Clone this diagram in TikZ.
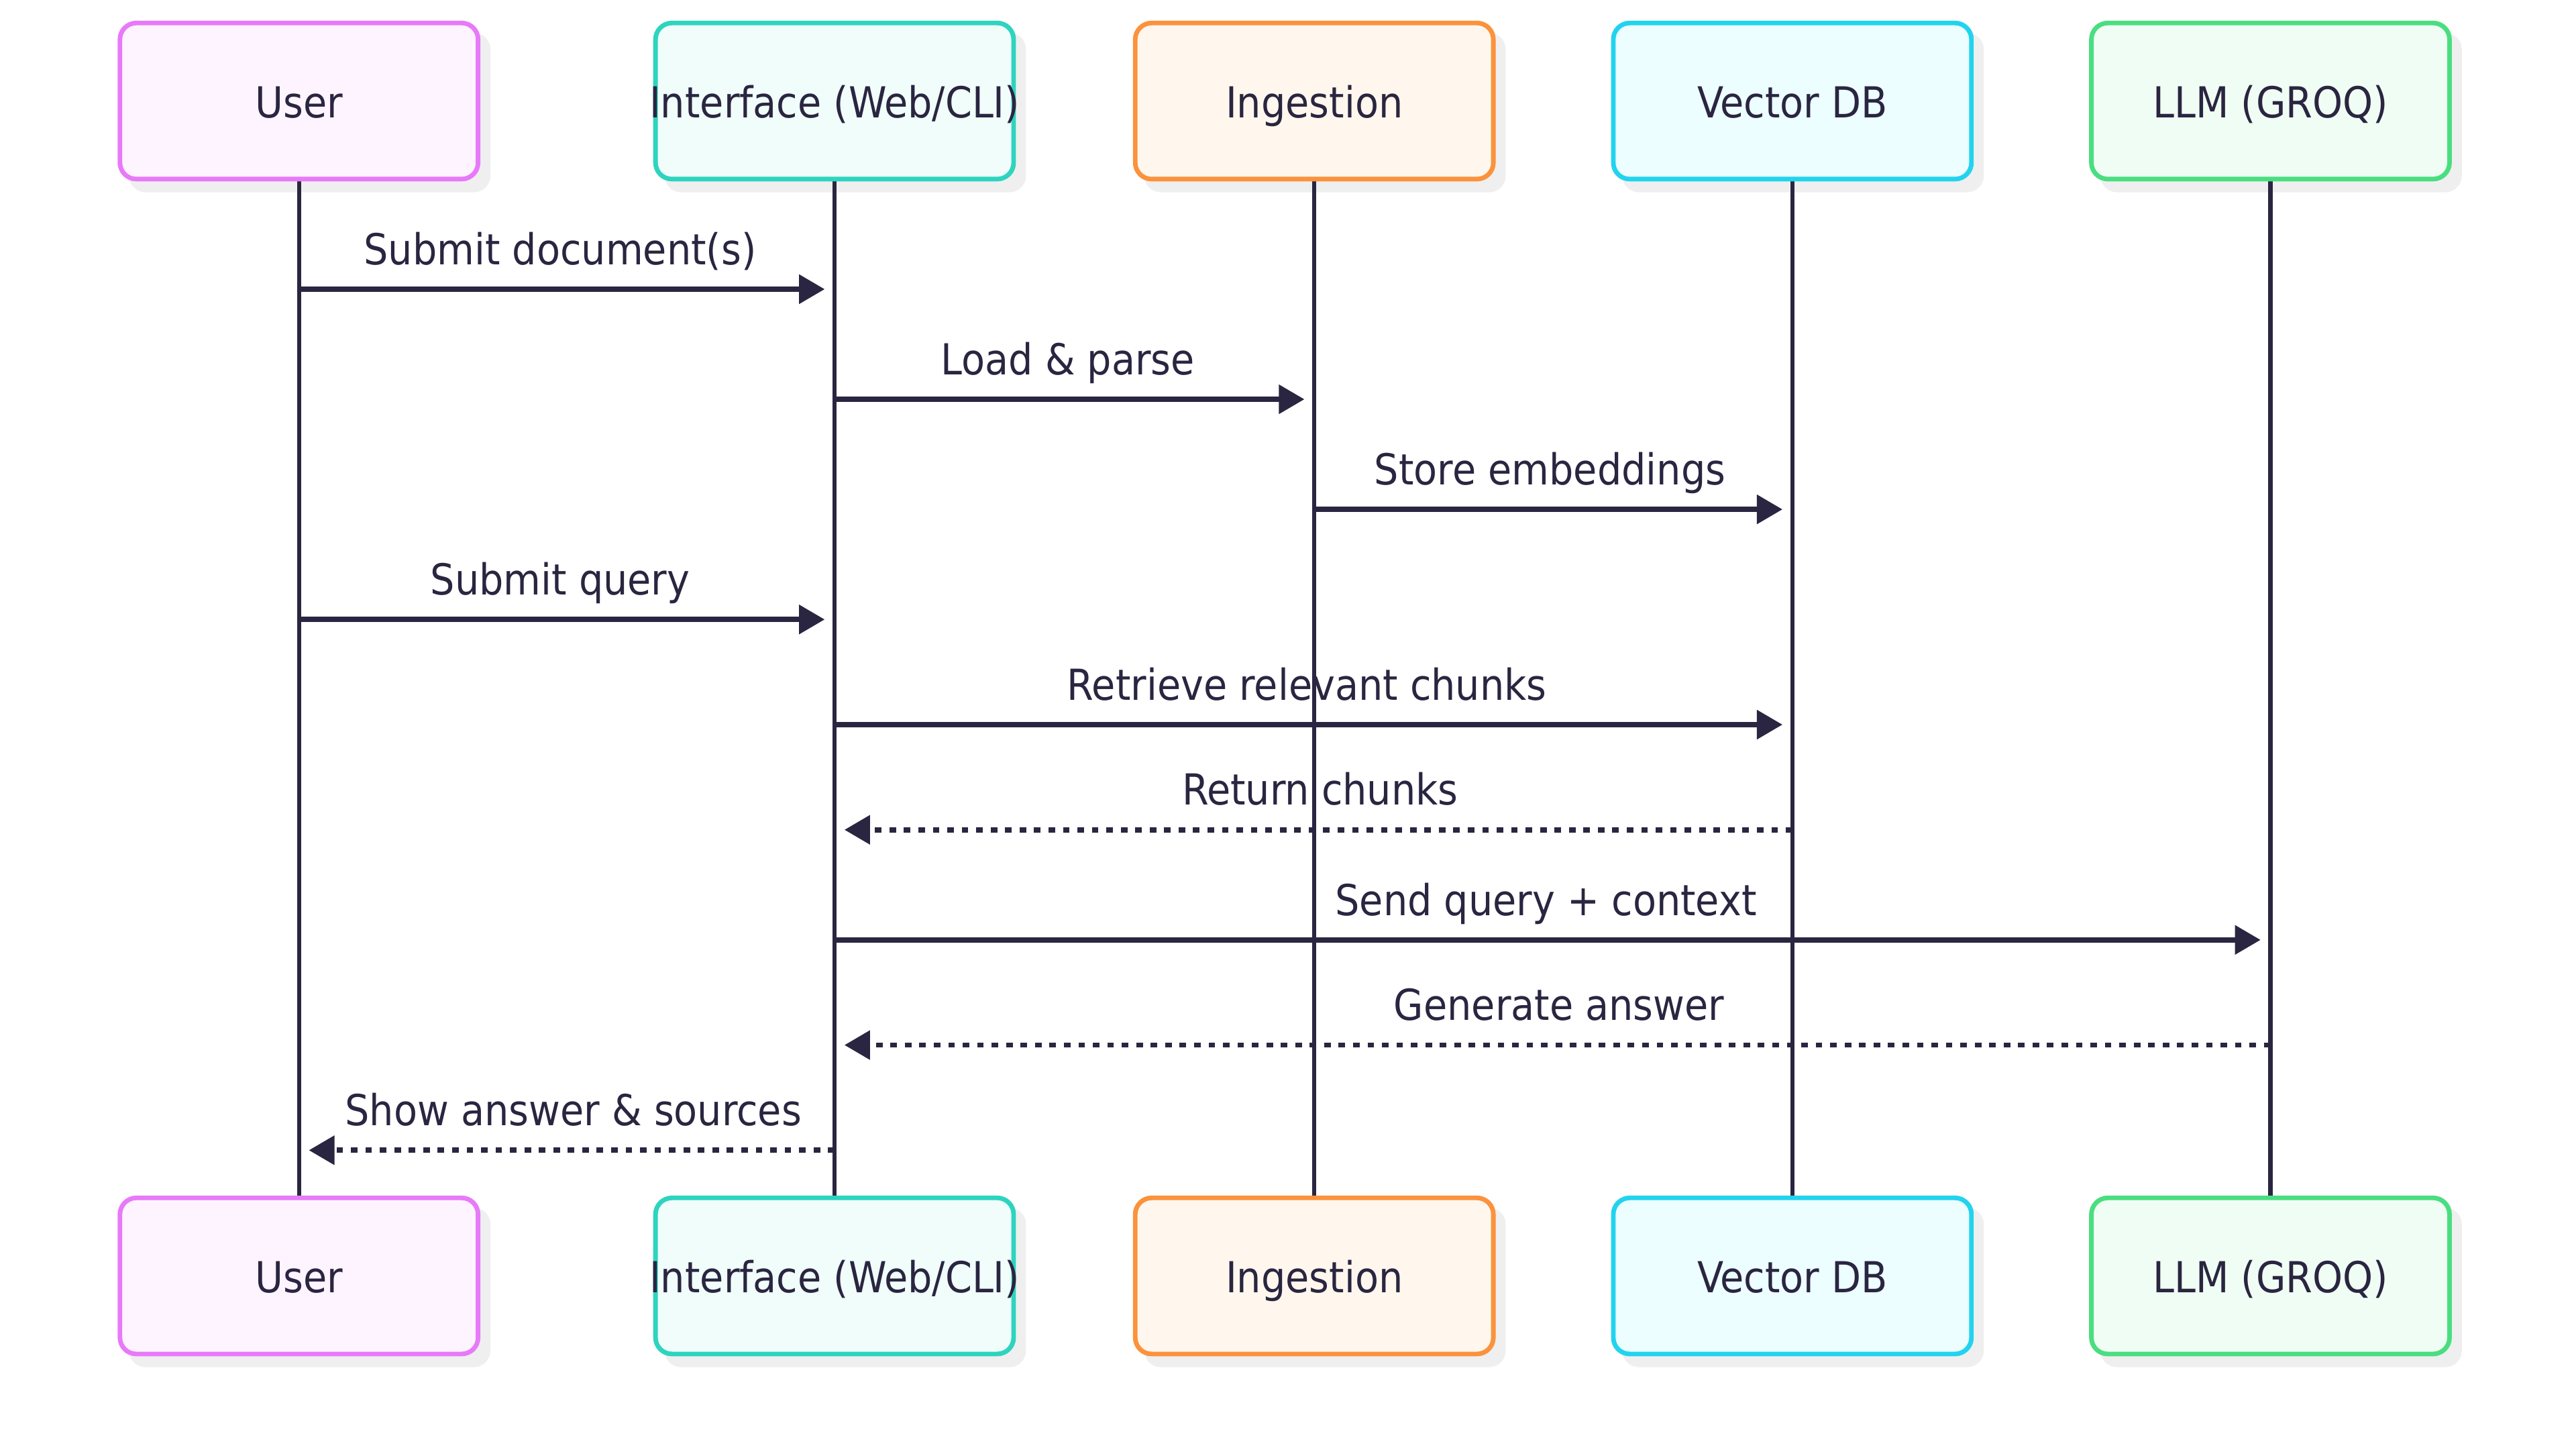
\documentclass[tikz,border=0pt]{standalone}
\usepackage{fontspec}
\setmainfont{DejaVu Sans Condensed}
\usetikzlibrary{arrows.meta}
\definecolor{ink}{HTML}{2A2540}
\definecolor{shadowc}{HTML}{EFEFEF}
\definecolor{userB}{HTML}{E879F9}\definecolor{userF}{HTML}{FDF4FF}
\definecolor{ifB}{HTML}{2DD4BF}\definecolor{ifF}{HTML}{F0FDFA}
\definecolor{ingB}{HTML}{FB923C}\definecolor{ingF}{HTML}{FFF7ED}
\definecolor{vecB}{HTML}{22D3EE}\definecolor{vecF}{HTML}{ECFEFF}
\definecolor{llmB}{HTML}{4ADE80}\definecolor{llmF}{HTML}{F0FDF4}
\tikzset{
  actor/.style={draw=#1B, fill=#1F, line width=1.4pt, rounded corners=5pt,
    minimum width=109pt, minimum height=47.5pt, inner sep=0pt,
    text height=11.1pt, text depth=1.1pt,
    font=\fontsize{13}{15}\selectfont, text=ink},
  shadowbox/.style={fill=shadowc, draw=none, rounded corners=5pt,
    minimum width=110pt, minimum height=48.5pt, inner sep=0pt},
  life/.style={draw=ink, line width=1.25pt},
  msg/.style={draw=ink, line width=1.6pt, -{Triangle[length=7.8pt,width=8.6pt]}, shorten >=3pt},
  reply/.style={msg, dash pattern=on 2pt off 2.4pt},
  lbl/.style={font=\fontsize{13}{15}\selectfont, text=ink, inner sep=0pt, anchor=base}
}
\begin{document}
\begin{tikzpicture}[x=0.5pt,y=-0.5pt]
\fill[white] (0,0) rectangle (1568,886);
\useasboundingbox (0,0) rectangle (1568,886);
% shadows
\foreach \x in {182,508,800,1091,1382}{
  \node[shadowbox] (sT\x) at (\x+6.5,68.5) {};
  \node[shadowbox] (sB\x) at (\x+6.5,783.5) {};
}
% lifelines
\foreach \n/\x in {u/182,i/508,g/800,v/1091,l/1382}{
  \coordinate (\n top) at (\x,109);
  \coordinate (\n bot) at (\x,729);
}
\foreach \n in {u,i,g,v,l}{ \draw[life] (\n top) -- (\n bot); }
% top boxes
\node[actor=user] (uT) at (182,61.5) {User};
\node[actor=if]   (iT) at (508,61.5) {\makebox[0pt]{Interface (Web/CLI)}};
\node[actor=ing]  (gT) at (800,61.5) {Ingestion};
\node[actor=vec]  (vT) at (1091,61.5) {Vector DB};
\node[actor=llm]  (lT) at (1382,61.5) {LLM (GROQ)};
% bottom boxes
\node[actor=user] (uB) at (182,776.5) {User};
\node[actor=if]   (iB) at (508,776.5) {\makebox[0pt]{Interface (Web/CLI)}};
\node[actor=ing]  (gB) at (800,776.5) {Ingestion};
\node[actor=vec]  (vB) at (1091,776.5) {Vector DB};
\node[actor=llm]  (lB) at (1382,776.5) {LLM (GROQ)};
% message anchor points
\foreach \k/\y in {1/176,2/243,3/310,4/377,5/441,6/505,7/572,8/636,9/700}{
  \foreach \n/\x in {u/182,i/508,g/800,v/1091,l/1382}{
    \coordinate (\n\k) at (\x,\y);
  }
}
\draw[msg] (u1) -- (i1) node[lbl, midway, yshift=7.5pt, xshift=-2pt] {Submit document(s)};
\draw[msg] (i2) -- (g2) node[lbl, midway, yshift=7.5pt, xshift=-2pt] {Load \& parse};
\draw[msg] (g3) -- (v3) node[lbl, midway, yshift=7.5pt, xshift=-1pt] {Store embeddings};
\draw[msg] (u4) -- (i4) node[lbl, midway, yshift=7.5pt, xshift=-2pt] {Submit query};
\draw[msg] (i5) -- (v5) node[lbl, midway, yshift=7.5pt, xshift=-2pt] {Retrieve relevant chunks};
\draw[reply] (v6) -- (i6) node[lbl, midway, yshift=7.5pt, xshift=2pt] {Return chunks};
\draw[msg] (i7) -- (l7) node[lbl, midway, yshift=7.5pt, xshift=-2pt] {Send query + context};
\draw[reply] (l8) -- (i8) node[lbl, midway, yshift=7.5pt, xshift=2pt] {Generate answer};
\draw[reply] (i9) -- (u9) node[lbl, midway, yshift=7.5pt, xshift=2pt] {Show answer \& sources};
\end{tikzpicture}
\end{document}
